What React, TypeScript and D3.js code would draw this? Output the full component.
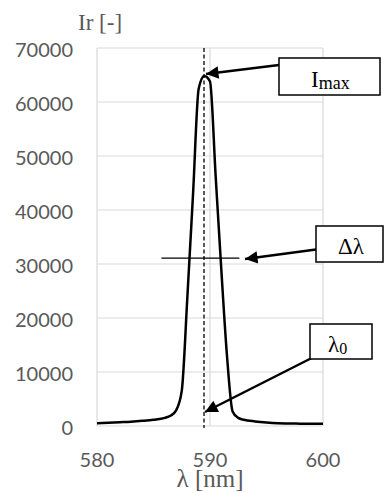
import { useEffect, useRef } from "react";
import * as d3 from "d3";

// measured spectrum
const wavelengths = [580, 581, 582, 583, 584, 585, 586, 586.5, 587, 587.5, 588, 588.5, 589, 589.5, 590, 590.5, 591, 591.5, 592, 592.5, 593, 594, 595, 596, 597, 598, 599, 600];
const intensities = [500, 600, 700, 800, 950, 1150, 1500, 1900, 2900, 6500, 24000, 43000, 62500, 64800, 63800, 46300, 29000, 13100, 2700, 1500, 1150, 850, 650, 520, 470, 430, 400, 400];

const xTicks = [580, 590, 600];
const yTicks = [0, 10000, 20000, 30000, 40000, 50000, 60000, 70000];

const lambda0 = 589.47;
const halfLevel = 31100;
const halfRange = [585.7, 592.6];

function App() {
  const ref = useRef<SVGSVGElement>(null);
  const width = 384;
  const height = 493;
  const marginTop = 48;
  const marginRight = 61;
  const marginBottom = 67;
  const marginLeft = 97;

  useEffect(() => {
    const svg = d3.select(ref.current);
    svg.selectAll("*").remove();

    const x = d3.scaleLinear([580, 600], [marginLeft, width - marginRight]);
    const y = d3.scaleLinear([0, 70000], [height - marginBottom, marginTop]);

    const defs = svg.append("defs");
    defs.append("marker")
      .attr("id", "head")
      .attr("viewBox", "0 0 10 10")
      .attr("refX", 10)
      .attr("refY", 5)
      .attr("markerWidth", 6)
      .attr("markerHeight", 5)
      .attr("markerUnits", "strokeWidth")
      .attr("orient", "auto")
      .append("path")
      .attr("d", "M0,0L10,5L0,10z")
      .attr("fill", "#000");

    // grid
    svg.append("g")
      .selectAll("line")
      .data(yTicks)
      .join("line")
      .attr("x1", x(580)).attr("x2", x(600))
      .attr("y1", d => y(d)).attr("y2", d => y(d))
      .attr("stroke", "#d9d9d9").attr("stroke-width", 1.2);

    svg.append("g")
      .selectAll("line")
      .data(xTicks)
      .join("line")
      .attr("x1", d => x(d)).attr("x2", d => x(d))
      .attr("y1", y(0)).attr("y2", y(70000))
      .attr("stroke", "#d9d9d9").attr("stroke-width", 1.2);

    // tick labels
    svg.append("g")
      .selectAll("text")
      .data(yTicks)
      .join("text")
      .attr("x", 73)
      .attr("y", d => y(d) + 8.5)
      .attr("text-anchor", "end")
      .attr("font-family", "Lato, sans-serif")
      .attr("font-size", 20)
      .attr("fill", "#595959")
      .text(d => d);

    svg.append("g")
      .selectAll("text")
      .data(xTicks)
      .join("text")
      .attr("x", d => x(d))
      .attr("y", 466.5)
      .attr("text-anchor", "middle")
      .attr("font-family", "Lato, sans-serif")
      .attr("font-size", 20)
      .attr("fill", "#595959")
      .text(d => d);

    // axis titles
    svg.append("text")
      .attr("x", 78).attr("y", 30)
      .attr("font-family", "Liberation Serif, serif")
      .attr("font-size", 23)
      .attr("fill", "#595959")
      .text("Ir [-]");

    svg.append("text")
      .attr("x", x(590)).attr("y", 487)
      .attr("text-anchor", "middle")
      .attr("font-family", "Liberation Serif, serif")
      .attr("font-size", 25)
      .attr("fill", "#595959")
      .text("λ [nm]");

    // dashed line at peak wavelength
    svg.append("line")
      .attr("x1", x(lambda0)).attr("x2", x(lambda0))
      .attr("y1", y(70000)).attr("y2", y(0) + 2)
      .attr("stroke", "#000").attr("stroke-width", 1.3)
      .attr("stroke-dasharray", "4,2.5");

    // spectrum
    const pts = wavelengths.map((w, i) => [w, intensities[i]] as [number, number]);
    const line = d3.line<[number, number]>()
      .x(d => x(d[0]))
      .y(d => y(d[1]))
      .curve(d3.curveMonotoneX);
    svg.append("path")
      .attr("d", line(pts))
      .attr("fill", "none")
      .attr("stroke", "#000")
      .attr("stroke-width", 2.5)
      .attr("stroke-linejoin", "round");

    // half maximum width
    svg.append("line")
      .attr("x1", x(halfRange[0])).attr("x2", x(halfRange[1]))
      .attr("y1", y(halfLevel)).attr("y2", y(halfLevel))
      .attr("stroke", "#000").attr("stroke-width", 1.2);

    // callouts
    const callouts = [
      { box: [279, 58, 101, 37], from: [279, 65], to: [x(lambda0) + 2, y(64800) - 2], main: "I", sub: "max", tx: 311, ty: 87, subSize: 18 },
      { box: [316, 226, 67, 36], from: [316, 249.5], to: [245, 259], main: "Δλ", sub: "", tx: 338, ty: 254, subSize: 16 },
      { box: [310, 324, 62, 35], from: [311.7, 358], to: [x(lambda0) + 1, 412], main: "λ", sub: "0", tx: 328, ty: 352, subSize: 16 },
    ];

    callouts.forEach(c => {
      svg.append("line")
        .attr("x1", c.from[0]).attr("y1", c.from[1])
        .attr("x2", c.to[0]).attr("y2", c.to[1])
        .attr("stroke", "#000")
        .attr("stroke-width", 2.5)
        .attr("marker-end", "url(#head)");

      svg.append("rect")
        .attr("x", c.box[0]).attr("y", c.box[1])
        .attr("width", c.box[2]).attr("height", c.box[3])
        .attr("fill", "#fff")
        .attr("stroke", "#000")
        .attr("stroke-width", 1.5);

      const t = svg.append("text")
        .attr("x", c.tx).attr("y", c.ty)
        .attr("font-family", "Liberation Serif, serif")
        .attr("font-size", 23)
        .attr("fill", "#000");
      t.append("tspan").text(c.main);
      if (c.sub) {
        t.append("tspan")
          .attr("font-size", c.subSize)
          .attr("dy", 2)
          .text(c.sub);
      }
    });
  }, []);

  return (
    <svg
      ref={ref}
      width={width}
      height={height}
      style={{ position: "absolute", left: 0, top: 0, background: "#fff" }}
    />
  );
}

export default App;
